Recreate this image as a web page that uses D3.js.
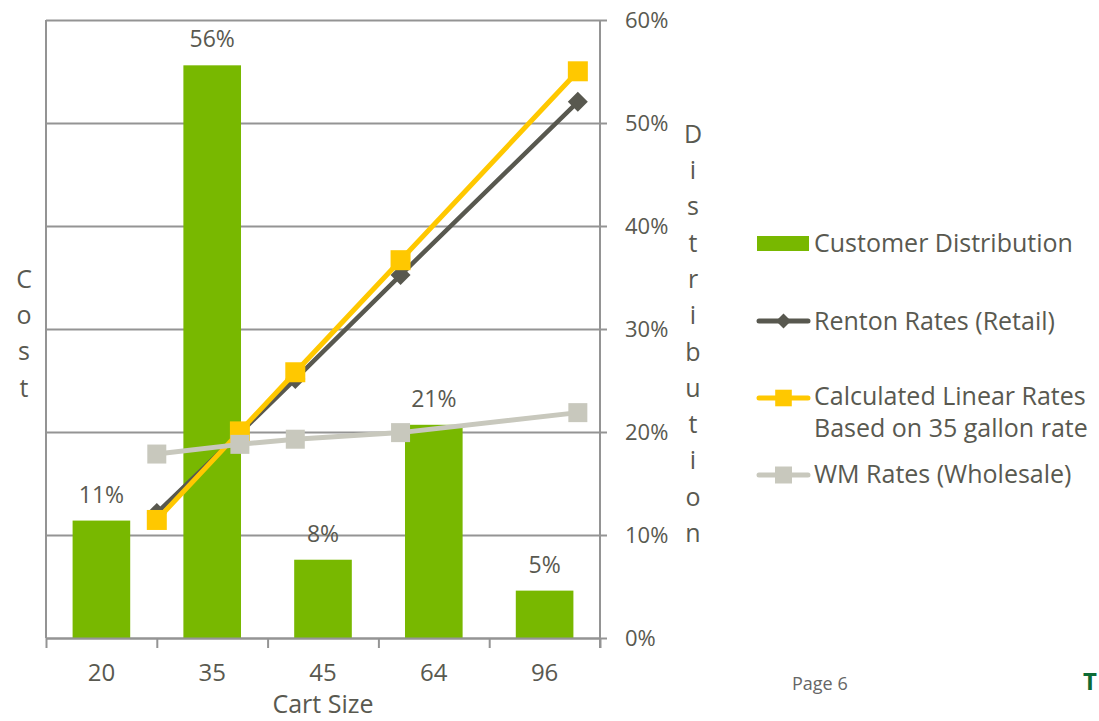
<!DOCTYPE html>
<html>
<head>
<meta charset="utf-8">
<script src="https://cdn.jsdelivr.net/npm/d3@7"></script>
<style>
  body { margin: 0; background: #fff; }
  svg { display: block; }
  text { font-family: "Open Sans", "DejaVu Sans", sans-serif; }
</style>
</head>
<body>
<svg id="chart" width="1099" height="721"></svg>
<script>
// Cart sizes (gallons) and share of customers per size
const cartSizes = [20, 35, 45, 64, 96];
const customerDistribution = [0.114, 0.556, 0.076, 0.207, 0.046];

// Monthly cost per cart size for each rate scheme (left axis, unlabeled)
const rentonRates = [6.07, 9.95, 12.57, 17.62, 26.03];
const linearRates = [5.73, 10.03, 12.90, 18.34, 27.51];
const wmRates     = [8.93, 9.40, 9.65, 9.97, 10.94];

// Right axis tick values
const pctTicks = [0, 0.1, 0.2, 0.3, 0.4, 0.5, 0.6];

// Legend entries
const legendBar = "Customer Distribution";
const legendRenton = "Renton Rates (Retail)";
const legendLinear = ["Calculated Linear Rates", "Based on 35 gallon rate"];
const legendWM = "WM Rates (Wholesale)";

const C = {
  green: "#78b800",
  renton: "#58584f",
  linear: "#ffc800",
  wm: "#c8c8bd",
  text: "#595950",
  axis: "#949494"
};

const svg = d3.select("#chart");
const m = { left: 46, right: 600, top: 20, bottom: 638 };

const xBand = d3.scaleBand().domain(cartSizes).range([m.left, m.right])
  .paddingInner(0.48).paddingOuter(0.24);
const xSize = d3.scaleLinear().domain([0, 100]).range([m.left, m.right]);
const yPct = d3.scaleLinear().domain([0, 0.6]).range([m.bottom, m.top]);
const yCost = d3.scaleLinear().domain([0, 30]).range([m.bottom, m.top]);
const pctFmt = d3.format(".0%");

// Gridlines from the cost axis (no labels)
const grid = svg.append("g")
  .attr("transform", `translate(${m.left},0)`)
  .call(d3.axisLeft(yCost).ticks(6).tickSize(-(m.right - m.left)).tickFormat(""));
grid.select(".domain").remove();
grid.selectAll(".tick line").attr("stroke", C.axis).attr("stroke-width", 2);

// Left axis line
svg.append("line")
  .attr("x1", m.left).attr("x2", m.left)
  .attr("y1", m.top).attr("y2", m.bottom)
  .attr("stroke", C.axis).attr("stroke-width", 2);

// Bars
svg.append("g").selectAll("rect")
  .data(cartSizes)
  .join("rect")
  .attr("x", d => xBand(d))
  .attr("width", xBand.bandwidth())
  .attr("y", (d, i) => yPct(customerDistribution[i]))
  .attr("height", (d, i) => yPct(0) - yPct(customerDistribution[i]))
  .attr("fill", C.green);

// Bar value labels
svg.append("g").selectAll("text")
  .data(cartSizes)
  .join("text")
  .attr("x", d => xBand(d) + xBand.bandwidth() / 2)
  .attr("y", (d, i) => yPct(customerDistribution[i]) - 18)
  .attr("text-anchor", "middle")
  .attr("font-size", 23)
  .attr("fill", C.text)
  .text((d, i) => pctFmt(customerDistribution[i]));

// Right axis (distribution %)
const rightAxis = svg.append("g")
  .attr("transform", `translate(${m.right},0)`)
  .call(d3.axisRight(yPct).tickValues(pctTicks).tickFormat(pctFmt).tickSize(7).tickPadding(18).tickSizeOuter(0));
rightAxis.select(".domain").attr("stroke", C.axis).attr("stroke-width", 2)
  .attr("d", `M0,${m.top}V${m.bottom + 10}`);
rightAxis.selectAll(".tick line").attr("stroke", C.axis).attr("stroke-width", 2);
rightAxis.selectAll(".tick text")
  .attr("font-size", 22).attr("fill", C.text)
  .attr("font-family", '"Open Sans", sans-serif');

// Bottom axis: tick marks on band boundaries, labels under bands
const bIdx = d3.scaleLinear().domain([0, cartSizes.length]).range([m.left, m.right]);
const bottomTicks = svg.append("g")
  .attr("transform", `translate(0,${m.bottom})`)
  .call(d3.axisBottom(bIdx).ticks(cartSizes.length).tickSize(10).tickFormat("").tickSizeOuter(0));
bottomTicks.select(".domain").attr("stroke", C.axis).attr("stroke-width", 2);
bottomTicks.selectAll(".tick line").attr("stroke", C.axis).attr("stroke-width", 2);

const bottomLabels = svg.append("g")
  .attr("transform", `translate(0,${m.bottom})`)
  .call(d3.axisBottom(xBand).tickSize(0).tickPadding(0));
bottomLabels.select(".domain").remove();
bottomLabels.selectAll(".tick text")
  .attr("y", 43).attr("dy", null)
  .attr("font-size", 24).attr("fill", C.text)
  .attr("font-family", '"Open Sans", sans-serif');

// Axis titles
svg.append("text")
  .attr("x", (m.left + m.right) / 2).attr("y", 713)
  .attr("text-anchor", "middle")
  .attr("font-size", 25).attr("fill", C.text)
  .text("Cart Size");

function stacked(word, x, y0, step) {
  svg.append("g").selectAll("text")
    .data(word.split(""))
    .join("text")
    .attr("x", x)
    .attr("y", (d, i) => y0 + i * step)
    .attr("text-anchor", "middle")
    .attr("font-size", 25)
    .attr("fill", C.text)
    .text(d => d);
}
stacked("Cost", 24, 288, 36.2);
stacked("Distribution", 693, 142.7, 36.3);

// Rate lines
const series = [
  { values: rentonRates, color: C.renton, width: 4.5, marker: "diamond", size: 10 },
  { values: linearRates, color: C.linear, width: 5, marker: "square", size: 10 },
  { values: wmRates, color: C.wm, width: 5, marker: "square", size: 9.5 }
];

function markerPath(type, r) {
  return type === "diamond"
    ? `M0,${-r}L${r},0L0,${r}L${-r},0Z`
    : `M${-r},${-r}H${r}V${r}H${-r}Z`;
}

const line = d3.line()
  .x(d => xSize(d.size))
  .y(d => yCost(d.value));

series.forEach(s => {
  const pts = cartSizes.map((size, i) => ({ size, value: s.values[i] }));
  const g = svg.append("g");
  g.append("path")
    .datum(pts)
    .attr("d", line)
    .attr("fill", "none")
    .attr("stroke", s.color)
    .attr("stroke-width", s.width)
    .attr("stroke-linejoin", "round");
  g.selectAll("path.mk")
    .data(pts)
    .join("path")
    .attr("class", "mk")
    .attr("d", markerPath(s.marker, s.size))
    .attr("transform", d => `translate(${xSize(d.size)},${yCost(d.value)})`)
    .attr("fill", s.color);
});

// Legend
const lg = svg.append("g").attr("font-size", 25).attr("fill", C.text);
const lx = 757, lw = 53, tx = 814;

lg.append("rect").attr("x", lx).attr("y", 236).attr("width", 52).attr("height", 15).attr("fill", C.green);
lg.append("text").attr("x", tx).attr("y", 252).text(legendBar);

const legendLines = [
  { y: 321, color: C.renton, marker: "diamond", r: 7.5, labels: [legendRenton], base: 330 },
  { y: 398, color: C.linear, marker: "square", r: 8.3, labels: legendLinear, base: 405 },
  { y: 475, color: C.wm, marker: "square", r: 8.5, labels: [legendWM], base: 483 }
];
legendLines.forEach(e => {
  lg.append("line")
    .attr("x1", lx + 2).attr("x2", lx + lw - 2)
    .attr("y1", e.y).attr("y2", e.y)
    .attr("stroke", e.color).attr("stroke-width", 5).attr("stroke-linecap", "round");
  lg.append("path")
    .attr("d", markerPath(e.marker, e.r))
    .attr("transform", `translate(${lx + lw / 2},${e.y})`)
    .attr("fill", e.color);
  e.labels.forEach((t, i) => {
    lg.append("text").attr("x", tx).attr("y", e.base + i * 32).text(t);
  });
});

// Page footer
svg.append("text")
  .attr("x", 792).attr("y", 690)
  .attr("font-size", 18).attr("fill", "#666")
  .text("Page 6");
svg.append("text")
  .attr("x", 1083).attr("y", 690)
  .attr("font-size", 24).attr("font-weight", "bold")
  .attr("font-family", '"Liberation Sans", sans-serif')
  .attr("fill", "#0d6b35")
  .text("T");
</script>
</body>
</html>
